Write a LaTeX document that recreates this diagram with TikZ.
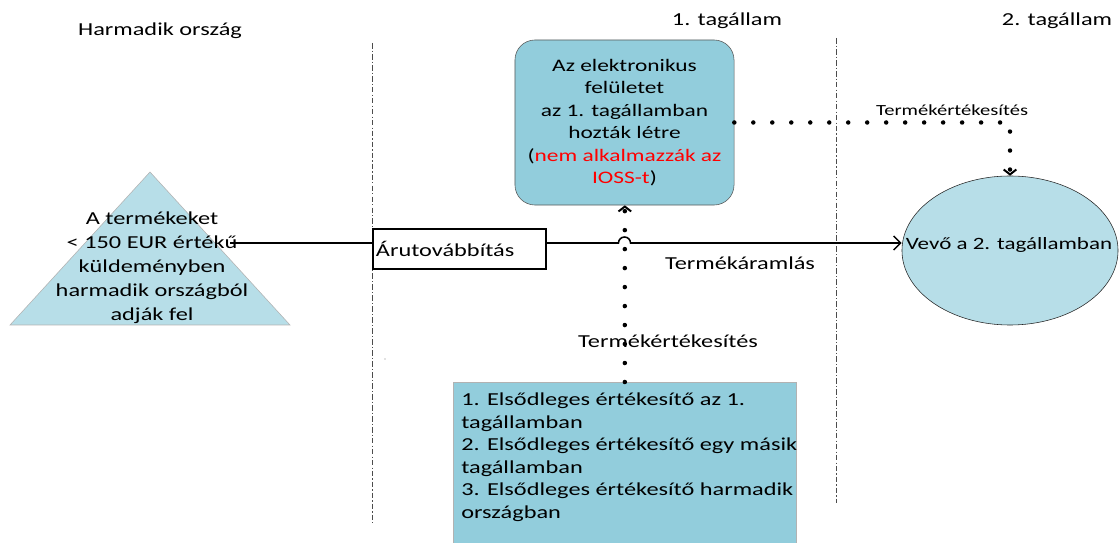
\documentclass[tikz,border=0pt]{standalone}
\usepackage{fontspec}
\setmainfont{Carlito}[FakeStretch=1.33]
\usetikzlibrary{arrows.meta,shapes.geometric}
\definecolor{boxteal}{HTML}{92CDDC}
\definecolor{boxlight}{HTML}{B7DEE8}
\newcommand{\fsz}[2]{\fontsize{#1}{#2}\selectfont}

\begin{document}
\begin{tikzpicture}[x=0.025cm,y=-0.025cm,font=\fsz{13}{16},
  border/.style={draw=gray!60!black,line width=0.7pt,dash pattern=on 4pt off 1.5pt on 0.8pt off 1.5pt},
  flow/.style={line width=1.1pt,-{Straight Barb[length=5pt,width=10pt,line width=1.1pt]}},
  sale/.style={line width=3.2pt,line cap=round,dash pattern=on 0pt off 13.5pt,
    -{Straight Barb[length=3.5pt,width=9pt,line width=1.4pt]}}]
\useasboundingbox (0,0) rectangle (1119,543);
\clip (0,0) rectangle (1119,543);

% headings
\node (h0) at (160,31) {Harmadik ország};
\node (h1) at (727,21) {1. tagállam};
\node (h2) at (1057,21) {2. tagállam};

% borders
\draw[border] (372,43) -- (372,525);
\draw[border] (836,38) -- (836,503);
\fill[gray] (385,359) circle (0.5pt);

% third country
\draw[draw=gray!60,fill=boxlight] (150,172) -- (290,325) -- (10,325) -- cycle;
\node[align=center,font=\fsz{13}{17}] (src) at (152,268)
  {A termékeket\\< 150 EUR értékű\\küldeményben\\harmadik országból\\adják fel};

% platform
\node[draw=gray!70!black,fill=boxteal,rounded corners=0.5cm,minimum width=5.475cm,
  minimum height=4.125cm,align=center,font=\fsz{12.5}{16}] (plat) at (624.5,122.5)
  {Az elektronikus\\felületet\\az 1. tagállamban\\hozták létre\\
   (\textcolor{red}{nem alkalmazzák az}\\\textcolor{red}{IOSS-t})};

% forwarder
\node[draw,fill=white,line width=0.8pt,minimum width=4.325cm,minimum height=1cm,
  text width=4.175cm,inner xsep=0.075cm,align=left] (fwd) at (459.5,249) {Árutovábbítás};

% buyer
\node[ellipse,draw=gray!30!black,fill=boxlight,minimum width=5.4cm,minimum height=3.725cm,
  inner sep=0pt] (buyer) at (1010,250.5) {};
\node[font=\fsz{12.3}{16}] (buyertxt) at (1009,245) {Vevő a 2. tagállamban};

% sellers
\node[draw=gray!60,fill=boxteal,minimum width=8.575cm,minimum height=4.5cm,
  anchor=north west,inner sep=0pt] (low) at (453,382) {};
\node[anchor=north west,inner sep=0pt,align=left] (lowtxt) at (461,393)
  {1. Elsődleges értékesítő az 1.\\tagállamban\\2. Elsődleges értékesítő egy másik\\
   tagállamban\\3. Elsődleges értékesítő harmadik\\országban};

% goods flow
\coordinate (start) at (230,243);
\coordinate (hop) at (618.5,243);
\draw[line width=1.1pt] (start) -- (start -| fwd.west);
\draw[flow] (start -| fwd.east) -- (hop) arc[start angle=180,end angle=0,radius=0.15cm]
  -- (start -| buyer.west);
\node (flowlbl) at (740,263) {Termékáramlás};

% sales
\draw[sale] (low.north) -- (low.north |- plat.south);
\draw[sale] (plat.east) -| (buyer.north);
\node (salelbl) at (668,341) {Termékértékesítés};
\node[font=\fsz{11}{14}] (salelbl2) at (952,110) {Termékértékesítés};
\end{tikzpicture}
\end{document}
